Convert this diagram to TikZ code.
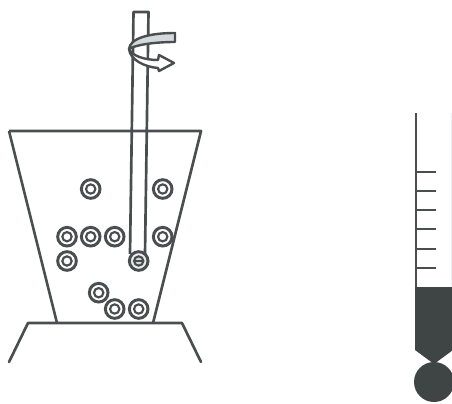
\documentclass[tikz,border=0pt]{standalone}
\usepackage{tikz}
\definecolor{inkdark}{HTML}{4A4E4E}
\definecolor{fillsilver}{HTML}{D3D9DC}
\definecolor{fillmercury}{HTML}{3F4444}
\tikzset{
  outline/.style={draw=inkdark, line width=2pt, line join=round},
  bead/.style={circle, draw=inkdark, line width=2.2pt, fill=white, minimum size=14pt, inner sep=0pt},
  beadcore/.style={circle, draw=inkdark, line width=1.6pt, minimum size=7pt, inner sep=0pt},
  swirl/.style={draw=inkdark, line width=1.8pt, line join=round, fill=fillsilver},
  mercury/.style={fill=fillmercury, draw=none}
}

\begin{document}
\begin{tikzpicture}[x=0.75pt, y=-0.75pt]
\useasboundingbox (0,0) rectangle (452,403);
\clip (0,0) rectangle (452,403);

% Beaker
\draw[outline] (9,131) -- (201,131) -- (153,323);
\draw[outline] (9,131) -- (57,323);

% Hot plate
\draw[outline, line cap=round] (9,362) -- (28,323) -- (182,323) -- (201,362);

% Beads
\foreach \x/\y [count=\i] in {90.7/189, 162.7/189, 67/236.7, 90.7/236.7, 114.7/236.7,
  162.7/236.7, 67/261, 98.7/292.7, 114.7/309, 138.7/309} {
  \node[bead] (bead\i) at (\x,\y) {};
  \node[beadcore] (core\i) at (bead\i) {};
}

% Stirring rod with the bead at its end
\node[bead, fill=fillsilver!50] (rodbead) at (138.7,261) {};
\node[beadcore, fill=fillsilver] (rodcore) at (rodbead) {};
\draw[draw=inkdark, line width=1.2pt] (rodcore.west) -- (rodcore.east);
\draw[outline] (130,254) -- (133.5,12) -- (148.5,12) -- (145,254);

% Rotation arrow
\draw[swirl] (175,33) .. controls (150,33) and (130,38) .. (129,49)
  .. controls (133,46) and (150,42) .. (175,42) -- cycle;
\draw[swirl, fill=white] (129,49) .. controls (132,56) and (145,60) .. (158,60)
  -- (159,55) -- (174,63) -- (159,71) -- (158,68)
  .. controls (145,67) and (130,60) .. (129,49) -- cycle;

% Thermometer
\draw[outline] (416,113) -- (416,290);
\draw[draw=fillsilver!40, line width=0.6pt] (451.5,113) -- (451.5,290);
\foreach \y in {172, 191, 210, 229, 249, 268} {
  \draw[outline] (416,\y) -- (436,\y);
}
\fill[mercury] (415,287) -- (453,287) -- (453,350) -- (434,364) -- (415,350) -- cycle;
\fill[mercury] (434,382) circle[radius=20];

\end{tikzpicture}
\end{document}
